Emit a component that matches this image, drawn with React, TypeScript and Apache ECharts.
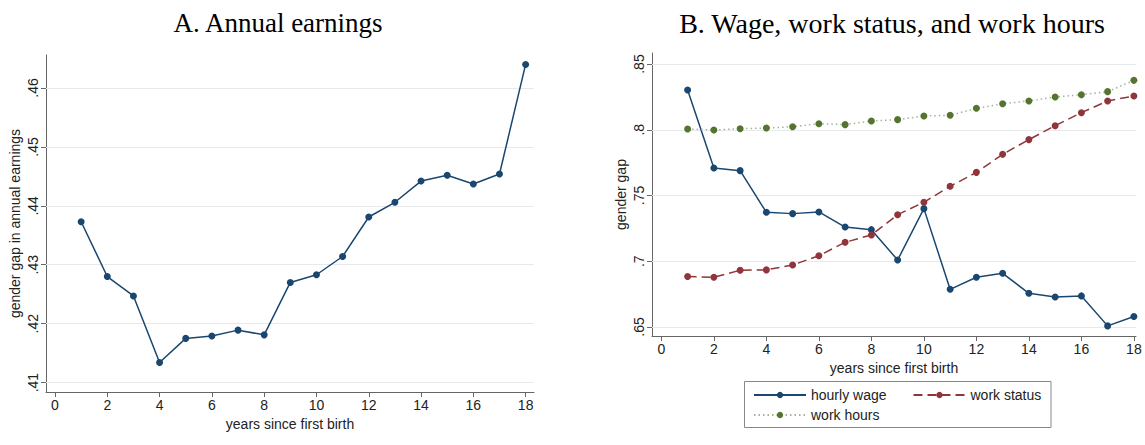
import React, { useEffect, useRef } from "react";
import * as echarts from "echarts";

const years = [1, 2, 3, 4, 5, 6, 7, 8, 9, 10, 11, 12, 13, 14, 15, 16, 17, 18];
const xTicks = [0, 2, 4, 6, 8, 10, 12, 14, 16, 18];

const annualEarnings = [0.4373, 0.428, 0.4247, 0.4134, 0.4175, 0.4179, 0.4189, 0.4181, 0.427, 0.4283, 0.4314, 0.4381, 0.4406, 0.4442, 0.4452, 0.4437, 0.4454, 0.464];
const leftYTicks = [0.41, 0.42, 0.43, 0.44, 0.45, 0.46];

const hourlyWage = [0.8302, 0.7709, 0.7689, 0.7372, 0.7362, 0.7375, 0.726, 0.724, 0.7009, 0.74, 0.6786, 0.6878, 0.6908, 0.6756, 0.6728, 0.6736, 0.6508, 0.6579];
const workStatus = [0.6883, 0.6878, 0.6931, 0.6934, 0.6971, 0.7042, 0.7144, 0.72, 0.7354, 0.7448, 0.757, 0.7676, 0.7813, 0.7925, 0.8031, 0.813, 0.8219, 0.8257];
const workHours = [0.8006, 0.7998, 0.8008, 0.8013, 0.8023, 0.8046, 0.8039, 0.8067, 0.8077, 0.8105, 0.811, 0.8163, 0.8198, 0.8219, 0.8249, 0.8267, 0.829, 0.8376];
const rightYTicks = [0.65, 0.7, 0.75, 0.8, 0.85];

const titleA = "A. Annual earnings";
const titleB = "B. Wage, work status, and work hours";
const xName = "years since first birth";
const yNameA = "gender gap in annual earnings";
const yNameB = "gender gap";
const seriesNames = ["hourly wage", "work status", "work hours"];

const NAVY = "#1a476f";
const MAROON = "#90353b";
const GREEN = "#55752f";
const GRID = "#e6eaec";
const AXIS = "#666";
const SANS = "Liberation Sans, Arial, sans-serif";
const SERIF = "Liberation Serif, Times New Roman, serif";

const fmt = (v: number) => String(+v.toFixed(2)).replace(/^0/, "");
const pairs = (vals: number[]) => years.map((y, i) => [y, vals[i]]);

function xAxisCfg(gridIndex: number, min: number, max: number) {
  return {
    type: "value",
    gridIndex,
    min,
    max,
    name: xName,
    nameLocation: "middle",
    nameGap: 23,
    nameTextStyle: { fontFamily: SANS, fontSize: 14, color: "#222" },
    axisLine: { show: true, lineStyle: { color: AXIS, width: 1 } },
    axisTick: { show: true, inside: false, length: 5, customValues: xTicks, lineStyle: { color: AXIS } },
    axisLabel: { customValues: xTicks, margin: 6, fontFamily: SANS, fontSize: 14, color: "#222" },
    splitLine: { show: false },
  };
}

function yAxisCfg(gridIndex: number, min: number, max: number, ticks: number[], name: string) {
  return {
    type: "value",
    gridIndex,
    min,
    max,
    name,
    nameLocation: "middle",
    nameGap: 24,
    nameTextStyle: { fontFamily: SANS, fontSize: 14, color: "#222" },
    axisLine: { show: true, onZero: false, lineStyle: { color: AXIS, width: 1 } },
    axisTick: { show: true, inside: false, length: 5, customValues: ticks, lineStyle: { color: AXIS } },
    axisLabel: {
      customValues: ticks,
      rotate: 90,
      margin: 6,
      fontFamily: SANS,
      fontSize: 14,
      color: "#222",
      formatter: (v: number) => fmt(v),
    },
    splitLine: { show: false },
  };
}

function gridLines(ticks: number[]) {
  return {
    silent: true,
    symbol: ["none", "none"],
    z: 1,
    label: { show: false },
    lineStyle: { color: GRID, width: 1.2, type: "solid" },
    emphasis: { disabled: true },
    data: ticks.map((t) => ({ yAxis: t })),
  };
}

const legendBase = {
  orient: "horizontal",
  padding: 0,
  itemWidth: 52,
  itemHeight: 8,
  itemGap: 26,
  textStyle: { fontFamily: SANS, fontSize: 14, color: "#222" },
};

export default function App() {
  const ref = useRef<HTMLDivElement>(null);
  useEffect(() => {
    if (!ref.current) return;
    const chart = echarts.init(ref.current, undefined, { renderer: "svg" });
    chart.setOption({
      animation: false,
      backgroundColor: "#fff",
      title: [
        { text: titleA, left: 273, top: 4, textAlign: "center", textStyle: { fontFamily: SERIF, fontSize: 27, fontWeight: "normal", color: "#000" } },
        { text: titleB, left: 887, top: 4, textAlign: "center", textStyle: { fontFamily: SERIF, fontSize: 28, fontWeight: "normal", color: "#000" } },
      ],
      grid: [
        { left: 46, top: 55, width: 488, height: 337 },
        { left: 652, top: 53, width: 484, height: 283 },
      ],
      graphic: [
        {
          type: "rect",
          z: 1,
          shape: { x: 744.5, y: 381.5, width: 306.5, height: 46 },
          style: { fill: "#fff", stroke: "#888", lineWidth: 1 },
        },
      ],
      xAxis: [xAxisCfg(0, -0.344, 18.32), xAxisCfg(1, -0.357, 18.08)],
      yAxis: [
        yAxisCfg(0, 0.4084, 0.4656, leftYTicks, yNameA),
        yAxisCfg(1, 0.6431, 0.8584, rightYTicks, yNameB),
      ],
      legend: [
        { ...legendBase, left: 753, top: 388, data: [seriesNames[0], seriesNames[1]] },
        { ...legendBase, left: 753, top: 408, data: [seriesNames[2]] },
      ],
      series: [
        {
          name: "annual",
          type: "line",
          xAxisIndex: 0,
          yAxisIndex: 0,
          data: pairs(annualEarnings),
          symbol: "circle",
          symbolSize: 7,
          itemStyle: { color: NAVY },
          lineStyle: { color: NAVY, width: 1.5 },
          markLine: gridLines(leftYTicks),
        },
        {
          name: seriesNames[0],
          type: "line",
          xAxisIndex: 1,
          yAxisIndex: 1,
          data: pairs(hourlyWage),
          symbol: "circle",
          symbolSize: 7,
          itemStyle: { color: NAVY },
          lineStyle: { color: NAVY, width: 1.5 },
          markLine: gridLines(rightYTicks),
        },
        {
          name: seriesNames[1],
          type: "line",
          xAxisIndex: 1,
          yAxisIndex: 1,
          data: pairs(workStatus),
          symbol: "circle",
          symbolSize: 7,
          itemStyle: { color: MAROON },
          lineStyle: { color: MAROON, width: 1.5, type: [9, 5] },
        },
        {
          name: seriesNames[2],
          type: "line",
          xAxisIndex: 1,
          yAxisIndex: 1,
          data: pairs(workHours),
          symbol: "circle",
          symbolSize: 7,
          itemStyle: { color: GREEN },
          lineStyle: { color: "#a6b39a", width: 1.5, type: [1.5, 3] },
        },
      ],
    });
    return () => chart.dispose();
  }, []);
  return (
    <div
      ref={ref}
      style={{ position: "fixed", left: 0, top: 0, width: 1145, height: 445 }}
    />
  );
}
